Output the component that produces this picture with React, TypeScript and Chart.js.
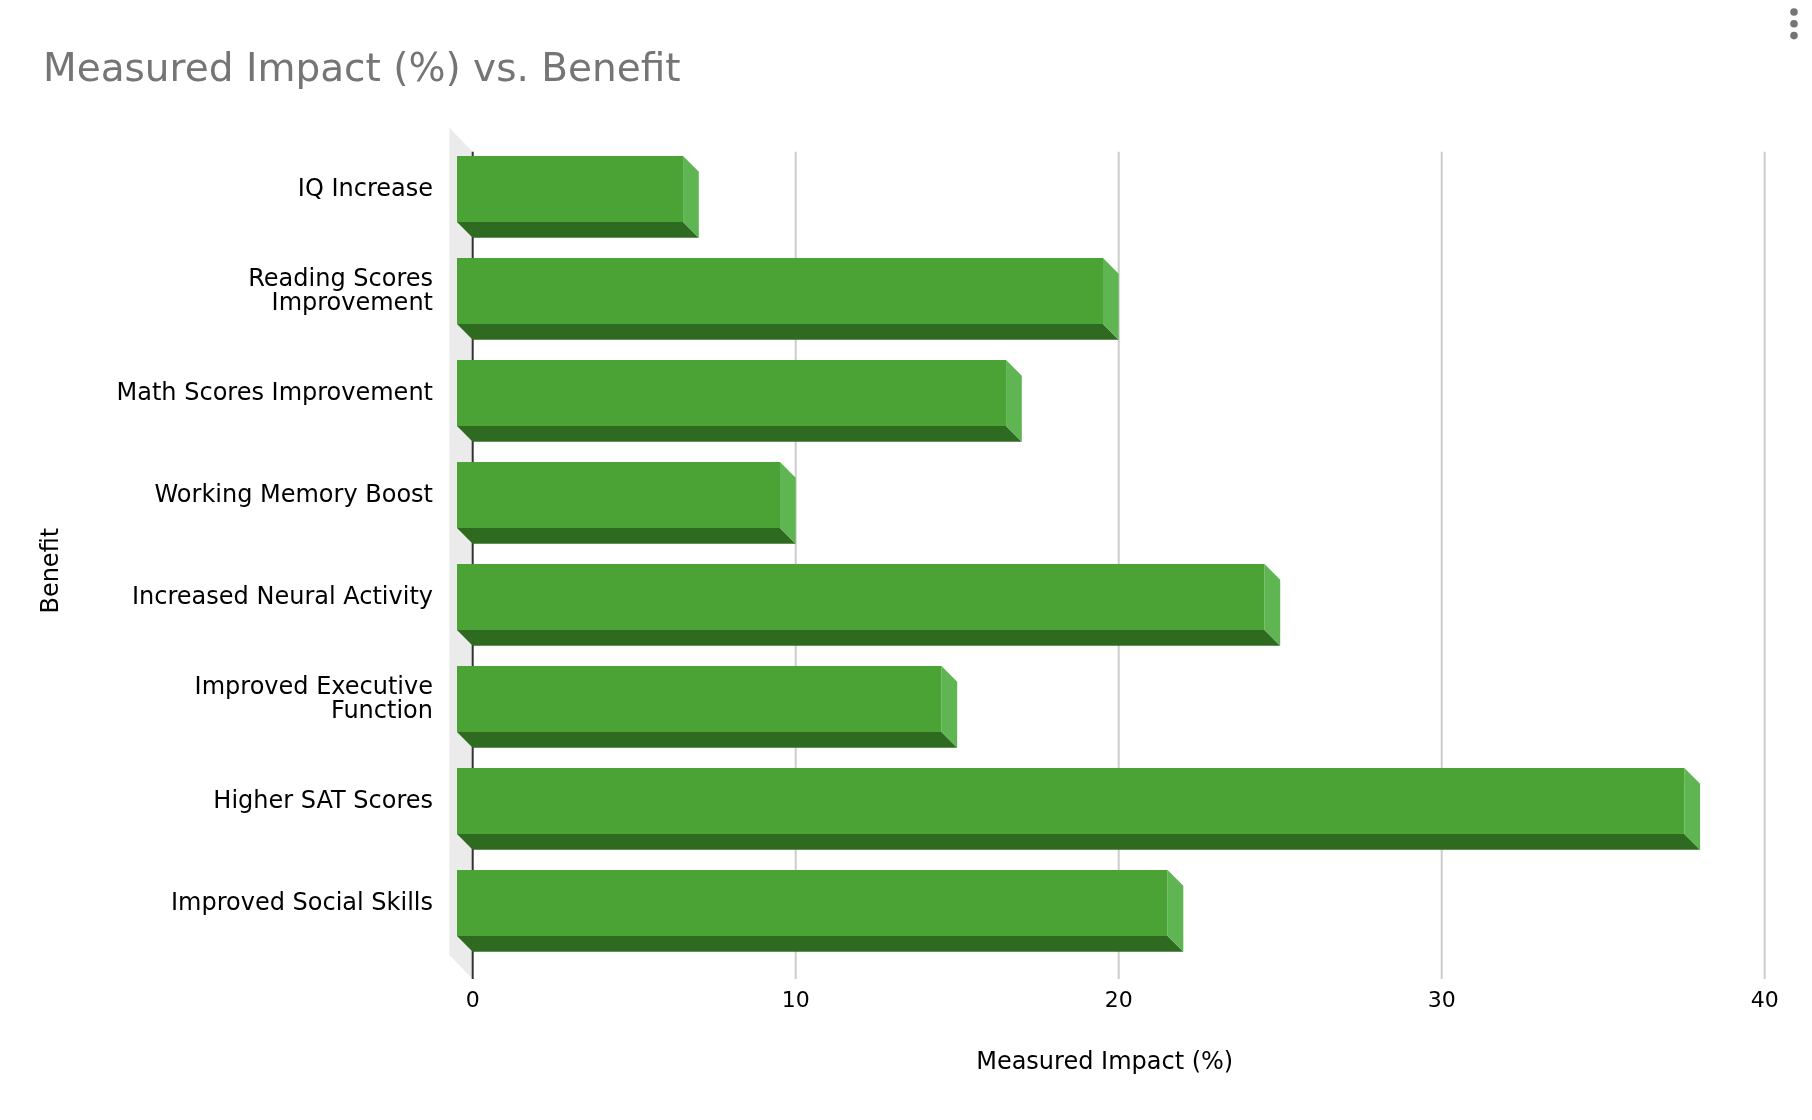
import React, { useEffect, useRef } from "react";
import { Chart, registerables } from "chart.js";

Chart.register(...registerables);

const categories: (string | string[])[] = [
  "IQ Increase",
  ["Reading Scores", "Improvement"],
  "Math Scores Improvement",
  "Working Memory Boost",
  "Increased Neural Activity",
  ["Improved Executive", "Function"],
  "Higher SAT Scores",
  "Improved Social Skills",
];
const impactValues = [7, 20, 17, 10, 25, 15, 38, 22];
const xMin = 0;
const xMax = 40;
const xStep = 10;

const chartTitle = "Measured Impact (%) vs. Benefit";
const xAxisTitle = "Measured Impact (%)";
const yAxisTitle = "Benefit";

const FONT = "'DejaVu Sans', sans-serif";
const FRONT = "#4ba336";
const SIDE = "#5fb552";
const BOTTOM = "#2e6b21";
const D = 15.7;

// shift an axis title drawn by the library (the reference centres them off the plot centre)
const TITLE_SHIFT: Record<string, [number, number]> = { x: [-14, 2], y: [0, 9] };

const depthPlugin = {
  id: "depth3d",
  afterLayout(chart: any) {
    Object.keys(TITLE_SHIFT).forEach((id) => {
      const scale = chart.scales[id];
      if (!scale || scale.__shifted) return;
      const orig = scale.drawTitle;
      const [dx, dy] = TITLE_SHIFT[id];
      scale.drawTitle = function (...args: any[]) {
        const ctx = this.ctx;
        ctx.save();
        ctx.translate(dx, dy);
        orig.apply(this, args);
        ctx.restore();
      };
      scale.__shifted = true;
    });
  },
  beforeDatasetsDraw(chart: any) {
    const { ctx, chartArea: a, scales } = chart;
    const x = scales.x;
    const wallTop = a.top - 2;
    const wallBottom = a.bottom + 9.3;
    const wallDepth = 23.4;
    ctx.save();
    ctx.fillStyle = "#ebebeb";
    ctx.beginPath();
    ctx.moveTo(a.left - wallDepth, wallTop - 24);
    ctx.lineTo(a.left, wallTop);
    ctx.lineTo(a.left, wallBottom);
    ctx.lineTo(a.left - wallDepth, wallBottom - 24);
    ctx.closePath();
    ctx.fill();

    x.ticks.forEach((t: any) => {
      const px = x.getPixelForValue(t.value);
      ctx.strokeStyle = t.value === 0 ? "#333333" : "#cccccc";
      ctx.lineWidth = 2;
      ctx.beginPath();
      ctx.moveTo(px, wallTop);
      ctx.lineTo(px, wallBottom);
      ctx.stroke();
    });

    const meta = chart.getDatasetMeta(0);
    meta.data.forEach((bar: any) => {
      const { x: xe, y, base, height } = bar.getProps(["x", "y", "base", "height"], true);
      const top = y - height / 2;
      const bottom = y + height / 2;
      ctx.fillStyle = BOTTOM;
      ctx.beginPath();
      ctx.moveTo(base - D, bottom - D);
      ctx.lineTo(xe - D, bottom - D);
      ctx.lineTo(xe, bottom);
      ctx.lineTo(base, bottom);
      ctx.closePath();
      ctx.fill();
      ctx.fillStyle = SIDE;
      ctx.beginPath();
      ctx.moveTo(xe - D, top - D);
      ctx.lineTo(xe, top);
      ctx.lineTo(xe, bottom);
      ctx.lineTo(xe - D, bottom - D);
      ctx.closePath();
      ctx.fill();
    });
    ctx.restore();
    ctx.save();
    ctx.translate(-D, -D);
  },
  afterDatasetsDraw(chart: any) {
    chart.ctx.restore();
  },
  afterDraw(chart: any) {
    const ctx = chart.ctx;
    ctx.save();
    ctx.fillStyle = "#757575";
    [12, 23.8, 35.6].forEach((cy) => {
      ctx.beginPath();
      ctx.arc(1794, cy, 3.8, 0, Math.PI * 2);
      ctx.fill();
    });
    ctx.restore();
  },
};

export default function App() {
  const canvasRef = useRef<HTMLCanvasElement | null>(null);

  useEffect(() => {
    if (!canvasRef.current) return;
    Chart.defaults.font.family = FONT;
    const chart = new Chart(canvasRef.current, {
      type: "bar",
      data: {
        labels: categories,
        datasets: [
          {
            data: impactValues,
            backgroundColor: FRONT,
            borderWidth: 0,
            categoryPercentage: 1,
            barPercentage: 0.647,
            clip: false as any,
          },
        ],
      },
      options: {
        indexAxis: "y",
        animation: false,
        responsive: true,
        maintainAspectRatio: false,
        devicePixelRatio: 1,
        layout: { padding: { left: 43, right: 47.3, top: 0, bottom: 0 } },
        plugins: {
          legend: { display: false },
          tooltip: { enabled: false },
          title: {
            display: true,
            text: chartTitle,
            align: "start",
            color: "#757575",
            font: { family: FONT, size: 39, weight: "normal" },
            padding: { top: 47, bottom: 59.9 },
          },
        },
        scales: {
          x: {
            type: "linear",
            position: "bottom",
            min: xMin,
            max: xMax,
            ticks: {
              stepSize: xStep,
              color: "#000000",
              font: { family: FONT, size: 22 },
              padding: 18.8,
            },
            grid: { display: false, drawTicks: false },
            border: { display: false },
            title: {
              display: true,
              text: xAxisTitle,
              color: "#000000",
              font: { family: FONT, size: 24 },
              padding: { top: 0, bottom: 44.6 },
            },
            afterFit: (s: any) => {
              s.height = 150.3;
            },
          },
          y: {
            type: "category",
            position: "left",
            ticks: {
              color: "#000000",
              font: { family: FONT, size: 24, lineHeight: 1 },
              padding: 39.7,
              labelOffset: -15,
            },
            grid: { display: false, drawTicks: false },
            border: { display: false },
            title: {
              display: true,
              text: yAxisTitle,
              color: "#000000",
              font: { family: FONT, size: 24 },
              padding: { top: -5.4, bottom: 0 },
            },
            afterFit: (s: any) => {
              s.width = 429.7;
            },
          },
        },
      } as any,
      plugins: [depthPlugin],
    });
    return () => chart.destroy();
  }, []);

  return (
    <div style={{ position: "absolute", left: 0, top: 0, width: 1812, height: 1120, background: "#ffffff" }}>
      <canvas ref={canvasRef} />
    </div>
  );
}
